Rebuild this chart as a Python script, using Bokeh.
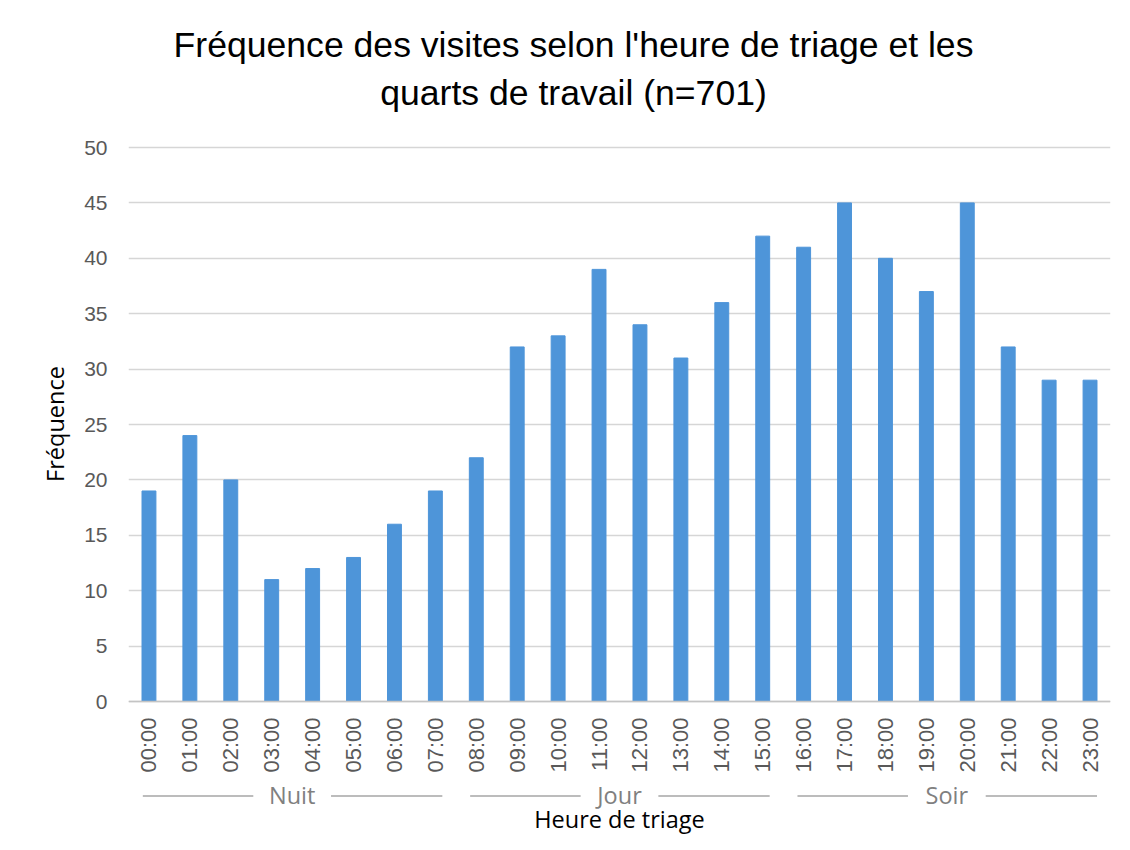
import math
from bokeh.plotting import figure
from bokeh.models import FactorRange, Range1d, FixedTicker
from bokeh.core.properties import value
from bokeh.embed import file_html
from bokeh.resources import INLINE

# ---- data ----
hours = ["00:00", "01:00", "02:00", "03:00", "04:00", "05:00", "06:00", "07:00",
         "08:00", "09:00", "10:00", "11:00", "12:00", "13:00", "14:00", "15:00",
         "16:00", "17:00", "18:00", "19:00", "20:00", "21:00", "22:00", "23:00"]
frequence = [19, 24, 20, 11, 12, 13, 16, 19,
             22, 32, 33, 39, 34, 31, 36, 42,
             41, 45, 40, 37, 45, 32, 29, 29]
shifts = ["Nuit", "Jour", "Soir"]
shift_sizes = [8, 8, 8]
title_lines = ["Fréquence des visites selon l'heure de triage et les",
               "quarts de travail (n=701)"]
y_ticks = [0, 5, 10, 15, 20, 25, 30, 35, 40, 45, 50]

# ---- layout (pixels) ----
W, H = 1114, 834
F_LEFT, F_RIGHT, F_TOP, F_BOTTOM = 128, 1110, 13, 834
Y50_PX, Y0_PX = 147, 701
UNIT = (Y0_PX - Y50_PX) / 50.0
CAT = (F_RIGHT - F_LEFT) / len(hours)


def py(pix):
    return (Y0_PX - pix) / UNIT


def px(pix):
    return (pix - F_LEFT) / CAT


BAR = "#4E95D9"
GRAY_TXT = "#595959"
TICK_FONT = "Liberation Sans"
LBL_FONT = "Open Sans"

p = figure(x_range=FactorRange(factors=hours),
           y_range=Range1d(py(F_BOTTOM), py(F_TOP)),
           width=W, height=H, output_backend="svg", toolbar_location=None,
           title=None, min_border_left=F_LEFT, min_border_right=W - F_RIGHT,
           min_border_top=F_TOP, min_border_bottom=H - F_BOTTOM)

p.vbar(x=hours, top=frequence, width=0.34, color=BAR)

p.outline_line_color = None
p.xgrid.grid_line_color = None
p.ygrid.grid_line_color = "#d6d6d6"
p.ygrid.grid_line_width = 1.5
p.ygrid.ticker = FixedTicker(ticks=y_ticks)

ya = p.yaxis[0]
ya.ticker = FixedTicker(ticks=y_ticks)
ya.axis_line_color = None
ya.major_tick_line_color = None
ya.major_tick_out = 0
ya.major_tick_in = 0
ya.minor_tick_line_color = None
ya.major_label_standoff = 21
ya.major_label_text_font = TICK_FONT
ya.major_label_text_font_size = "21px"
ya.major_label_text_color = GRAY_TXT
ya.axis_label = "Fréquence"
ya.axis_label_text_font = LBL_FONT
ya.axis_label_text_font_size = "23.5px"
ya.axis_label_text_font_style = "normal"
ya.axis_label_text_color = "black"
ya.axis_label_standoff = 10

xa = p.xaxis[0]
xa.fixed_location = 0
xa.major_label_orientation = math.pi / 2
xa.major_label_standoff = 16
xa.major_tick_line_color = None
xa.major_tick_out = 0
xa.major_tick_in = 0
xa.minor_tick_line_color = None
xa.axis_line_color = "#c4c4c4"
xa.axis_line_width = 1.5
xa.major_label_text_font = TICK_FONT
xa.major_label_text_font_size = "22px"
xa.major_label_text_color = GRAY_TXT
xa.axis_label = "Heure de triage"
xa.axis_label_text_font = LBL_FONT
xa.axis_label_text_font_size = "23.5px"
xa.axis_label_text_font_style = "normal"
xa.axis_label_text_color = "black"
xa.axis_label_standoff = 27

# title (two centred lines)
title_x = px(573)
p.text(x=[title_x, title_x], y=[py(44), py(92)], text=title_lines,
       text_align="center", text_baseline="middle",
       text_font=value("Liberation Sans"), text_font_size=value("35.6px"),
       text_color="black")

# shift group labels with side lines
gx, gnames, x0s, x1s = [], [], [], []
start = 0
for name, n in zip(shifts, shift_sizes):
    c = start + n / 2
    gx.append(c)
    gnames.append(name)
    x0s += [start + 0.35, c + 0.95]
    x1s += [c - 0.95, start + n - 0.33]
    start += n

p.text(x=gx, y=[py(794)] * len(gx), text=gnames, text_align="center",
       text_baseline="middle", text_font=value(LBL_FONT),
       text_font_size=value("23.5px"), text_color="#808080")
p.segment(x0=x0s, y0=[py(795.5)] * len(x0s), x1=x1s, y1=[py(795.5)] * len(x1s),
          line_color="#a6a6a6", line_width=1.5)

open("out.html", "w").write(file_html(p, INLINE))
